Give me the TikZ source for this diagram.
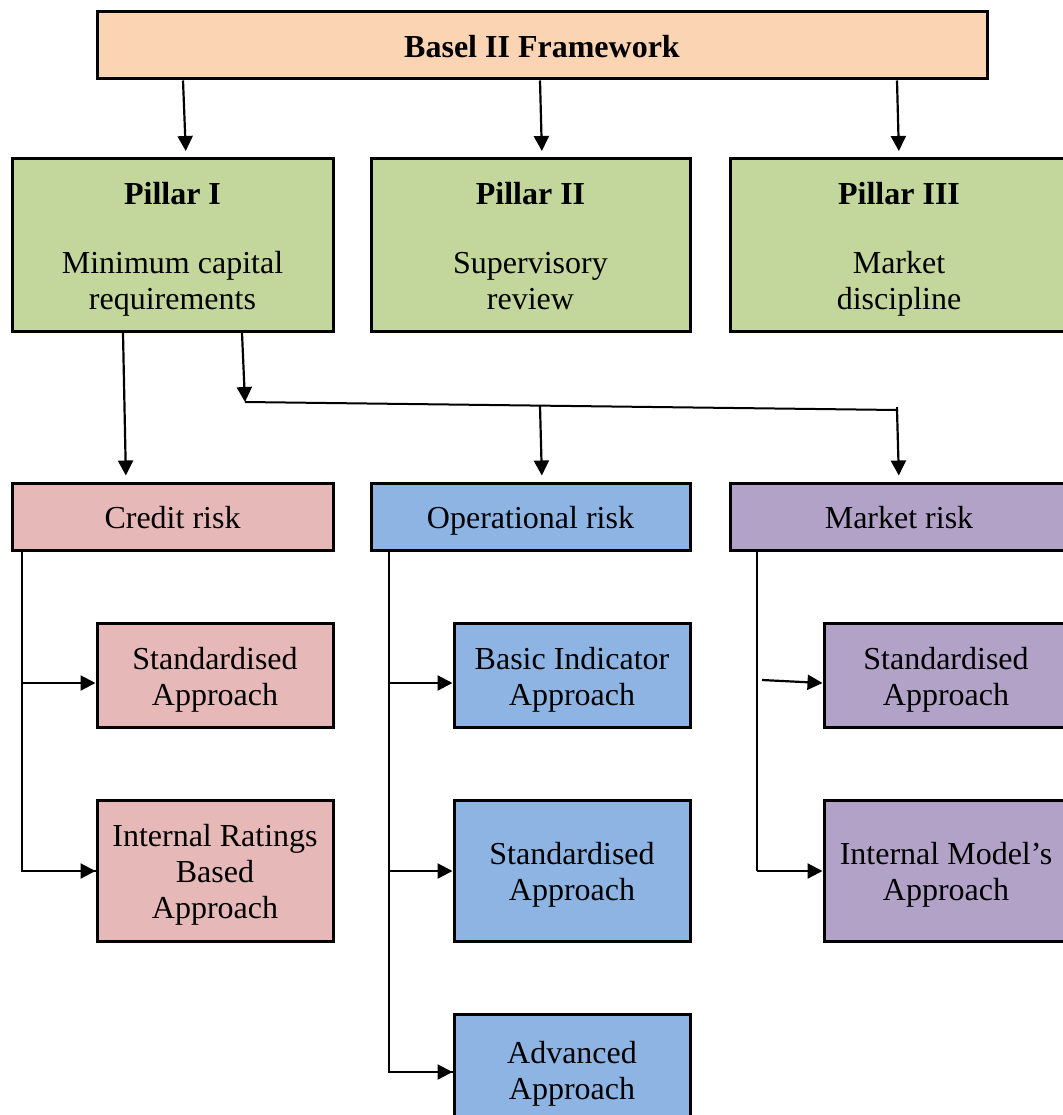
\documentclass[tikz,border=0pt]{standalone}
\usepackage{fontspec}
\setmainfont{Liberation Serif}
\usetikzlibrary{arrows.meta}
\definecolor{peach}{HTML}{FBD4B4}
\definecolor{pillargreen}{HTML}{C3D69B}
\definecolor{creditpink}{HTML}{E6B8B7}
\definecolor{opblue}{HTML}{8EB4E3}
\definecolor{mktpurple}{HTML}{B2A2C7}
% an invisible rule on every line keeps the text blocks evenly centred
\newcommand\Ln{\rule[-9pt]{0pt}{42pt}}
% fixed line spacing even when the rules touch
\newcommand\tightlines{\lineskiplimit=-50pt\relax\lineskip=0pt\relax}
\begin{document}
\begin{tikzpicture}[x=1pt,y=-1pt,
  box/.style={draw=black, line width=3pt, inner sep=0pt, align=center,
    font=\fontsize{32}{36}\selectfont\tightlines},
  pillar/.style={box, fill=pillargreen, minimum height=173pt},
  risk/.style={box, minimum height=67pt},
  sub/.style={box, minimum width=236pt},
  arr/.style={line width=2.2pt, -{Triangle[length=15pt,width=15pt]}},
  wire/.style={line width=2pt}]
\useasboundingbox (0,0) rectangle (1062,1115);

% top framework box
\node[box, fill=peach, minimum width=890pt, minimum height=67pt,
      font=\fontsize{32}{36}\selectfont\bfseries] (basel) at (542,45.5) {\Ln Basel II Framework};

% the three pillars
\node[pillar, minimum width=321pt] (p1) at (172.5,245)
  {\Ln\textbf{Pillar I}\\[33pt]\Ln Minimum capital\\\Ln requirements};
\node[pillar, minimum width=319pt] (p2) at (530.5,245)
  {\Ln\textbf{Pillar II}\\[33pt]\Ln Supervisory\\\Ln review};
\node[pillar, minimum width=338pt] (p3) at (899,245)
  {\Ln\textbf{Pillar III}\\[33pt]\Ln Market\\\Ln discipline};

% risk categories
\node[risk, fill=creditpink, minimum width=321pt] (credit) at (172.5,516.5) {\Ln Credit risk};
\node[risk, fill=opblue, minimum width=319pt] (oprisk) at (530.5,516.5) {\Ln Operational risk};
\node[risk, fill=mktpurple, minimum width=338pt] (mkt) at (899,516.5) {\Ln Market risk};

% approaches for credit risk
\node[sub, fill=creditpink, minimum height=104pt] (cstd) at (215,675) {\Ln Standardised\\\Ln Approach};
\node[sub, fill=creditpink, minimum height=141pt] (cirb) at (215,870.5) {\Ln Internal Ratings\\\Ln Based\\\Ln Approach};

% approaches for operational risk
\node[sub, fill=opblue, minimum height=104pt] (obia) at (572,675) {\Ln Basic Indicator\\\Ln Approach};
\node[sub, fill=opblue, minimum height=141pt] (ostd) at (572,870.5) {\Ln Standardised\\\Ln Approach};
\node[sub, fill=opblue, minimum height=110pt] (oadv) at (572,1069) {\Ln Advanced\\\Ln Approach};

% approaches for market risk
\node[sub, fill=mktpurple, minimum width=244pt, minimum height=104pt] (mstd) at (946,675) {\Ln Standardised\\\Ln Approach};
\node[sub, fill=mktpurple, minimum width=244pt, minimum height=141pt] (mima) at (946,870.5) {\Ln Internal Model's\\\Ln Approach};

% framework to pillars
\draw[arr, shorten >=6pt] (basel.south -| 183,0) -- (p1.north -| 186,0);
\draw[arr, shorten >=6pt] (basel.south -| 540,0) -- (p2.north -| 542,0);
\draw[arr, shorten >=6pt] (basel.south -| 897,0) -- (p3.north -| 899,0);

% pillar I to the risk categories
\draw[arr, shorten >=6pt] (p1.south -| 123,0) -- (credit.north -| 126,0);
\coordinate (splitL) at (245,402);
\coordinate (splitM) at (540,406);
\coordinate (splitR) at (897,410);
\draw[arr] (p1.south -| 242,0) -- (splitL);
\draw[wire] (splitL) -- (splitR) -- ++(0,-3);
\draw[arr, shorten >=6pt] (splitM) -- (oprisk.north -| 542,0);
\draw[arr, shorten >=6pt] (splitR) -- (mkt.north -| 899,0);

% credit risk branches
\coordinate (cA) at (22,683);
\draw[wire] (credit.south -| 22,0) |- (cirb.west |- 0,871);
\draw[arr] (22,871) -- (cirb.west |- 0,871);
\draw[arr] (cA) -- (cstd.west |- cA);

% operational risk branches
\coordinate (oA) at (389,683);
\coordinate (oB) at (389,871);
\draw[wire] (oprisk.south -| 389,0) |- (oadv.west |- 0,1072);
\draw[arr] (389,1072) -- (oadv.west |- 0,1072);
\draw[arr] (oA) -- (obia.west |- oA);
\draw[arr] (oB) -- (ostd.west |- oB);

% market risk branches
\coordinate (mA) at (762,680);
\draw[wire] (mkt.south -| 757,0) -- (757,871);
\draw[arr] (757,871) -- (mima.west |- 0,871);
\draw[arr] (mA) -- (mstd.west |- 0,683);
\end{tikzpicture}
\end{document}
